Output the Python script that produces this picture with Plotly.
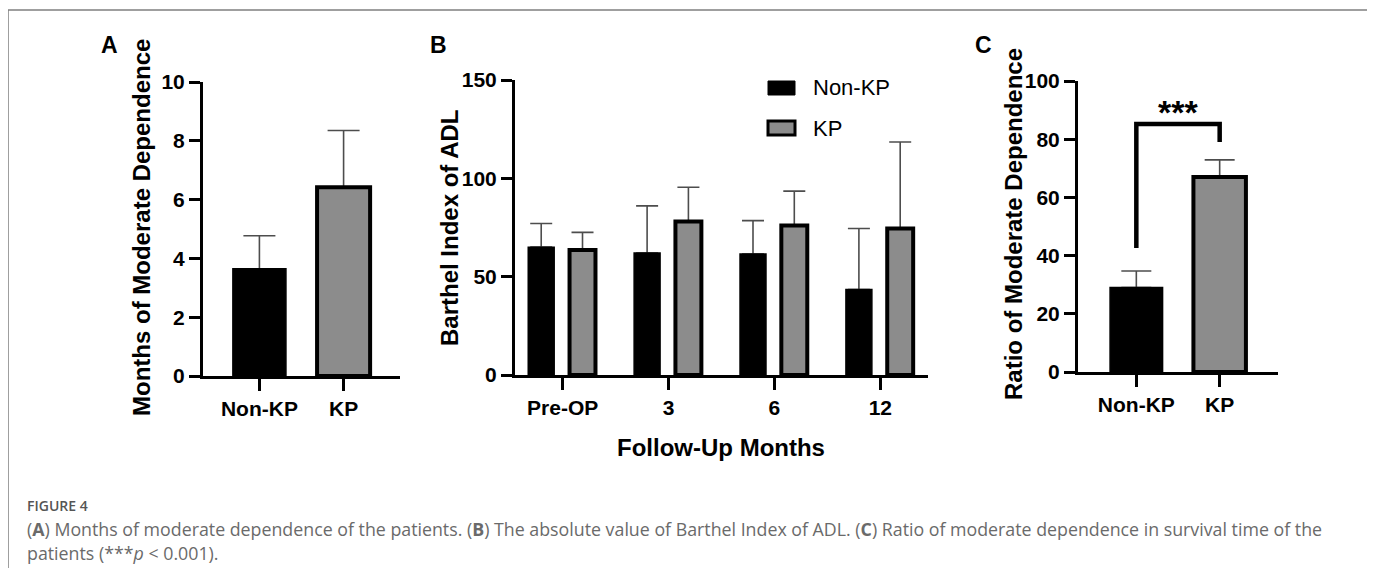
import plotly.graph_objects as go

# ---------------- data ----------------
a_categories = ["Non-KP", "KP"]
a_values = [3.65, 6.42]
a_errors = [1.12, 1.93]

b_categories = ["Pre-OP", "3", "6", "12"]
b_nonkp_values = [65.0, 62.0, 61.5, 43.5]
b_nonkp_errors = [12.0, 24.0, 17.0, 31.0]
b_kp_values = [63.5, 78.0, 76.0, 74.5]
b_kp_errors = [9.0, 17.5, 17.5, 44.0]

c_categories = ["Non-KP", "KP"]
c_values = [29.0, 67.0]
c_errors = [5.7, 5.9]
c_bracket_y = [42.6, 85.2, 85.2, 79.0]
c_star_label = "***"

series_names = ["Non-KP", "KP"]

# ---------------- styling ----------------
# the page body has an 8px margin, so the figure is sized to fill the rest
OFF = 8
W, H = 1375 - OFF, 568 - OFF
BLACK = "#000000"
GREY = "#8c8c8c"
ERR = "#4d4d4d"
FONT = "Arial, Liberation Sans, sans-serif"
CAP_FONT = "Open Sans, Noto Sans, sans-serif"


def px(x):
    return (x - OFF) / W


def py(y):
    return 1 - (y - OFF) / H


fig = go.Figure()


def err(arr, width):
    return dict(type="data", symmetric=False, array=arr,
                arrayminus=[0] * len(arr), color=ERR, thickness=1.6,
                width=width)


# ---- error bars (drawn underneath, on base axes) ----
fig.add_trace(go.Bar(x=a_categories, y=a_values, width=0.63,
                     marker=dict(color="rgba(0,0,0,0)", line=dict(width=0)),
                     error_y=err(a_errors, 16), xaxis="x", yaxis="y",
                     showlegend=False, hoverinfo="skip"))
fig.add_trace(go.Bar(x=b_categories, y=b_nonkp_values, width=0.245, offset=-0.325,
                     marker=dict(color="rgba(0,0,0,0)", line=dict(width=0)),
                     error_y=err(b_nonkp_errors, 11), xaxis="x2", yaxis="y2",
                     showlegend=False, hoverinfo="skip"))
fig.add_trace(go.Bar(x=b_categories, y=b_kp_values, width=0.245, offset=0.065,
                     marker=dict(color="rgba(0,0,0,0)", line=dict(width=0)),
                     error_y=err(b_kp_errors, 11), xaxis="x2", yaxis="y2",
                     showlegend=False, hoverinfo="skip"))
fig.add_trace(go.Bar(x=c_categories, y=c_values, width=0.63,
                     marker=dict(color="rgba(0,0,0,0)", line=dict(width=0)),
                     error_y=err(c_errors, 15), xaxis="x3", yaxis="y3",
                     showlegend=False, hoverinfo="skip"))

# ---- visible bars (overlay axes, drawn on top) ----
fig.add_trace(go.Bar(x=a_categories, y=a_values, width=0.63,
                     marker=dict(color=[BLACK, GREY], line=dict(color=BLACK, width=[1.5, 4])),
                     xaxis="x4", yaxis="y4", showlegend=False))
fig.add_trace(go.Bar(x=b_categories, y=b_nonkp_values, width=0.245, offset=-0.325,
                     name=series_names[0],
                     marker=dict(color=BLACK, line=dict(color=BLACK, width=1.5)),
                     xaxis="x5", yaxis="y5", showlegend=False))
fig.add_trace(go.Bar(x=b_categories, y=b_kp_values, width=0.245, offset=0.065,
                     name=series_names[1],
                     marker=dict(color=GREY, line=dict(color=BLACK, width=4)),
                     xaxis="x5", yaxis="y5", showlegend=False))
fig.add_trace(go.Bar(x=c_categories, y=c_values, width=0.63,
                     marker=dict(color=[BLACK, GREY], line=dict(color=BLACK, width=[1.5, 4])),
                     xaxis="x6", yaxis="y6", showlegend=False))

# significance bracket
fig.add_trace(go.Scatter(x=[c_categories[0], c_categories[0], c_categories[1], c_categories[1]],
                         y=c_bracket_y, mode="lines",
                         line=dict(color=BLACK, width=4.5),
                         xaxis="x6", yaxis="y6", showlegend=False, hoverinfo="skip"))

tickfont = dict(family=FONT, size=21, color=BLACK, weight="bold")


def xax(domain, rng, anchor):
    return dict(domain=domain, range=rng, type="category", anchor=anchor,
                showline=True, automargin=False,
                linecolor=BLACK, linewidth=3, ticks="outside", ticklen=12,
                tickwidth=3, tickcolor=BLACK, tickfont=tickfont,
                showgrid=False, zeroline=False, fixedrange=True)


def yax(domain, rng, dtick, anchor):
    return dict(domain=domain, range=rng, anchor=anchor, showline=True,
                automargin=False, linecolor=BLACK,
                linewidth=3, ticks="outside", ticklen=11, tickwidth=3,
                tickcolor=BLACK, tickfont=tickfont, dtick=dtick,
                showgrid=False, zeroline=False, fixedrange=True)


def hidden(over, rng, anchor, cat=False):
    d = dict(overlaying=over, range=rng, anchor=anchor, visible=False,
             automargin=False, fixedrange=True)
    if cat:
        d["type"] = "category"
    return d


dom_a_x = [px(203), px(400)]
dom_a_y = [py(376), py(82)]
dom_b_x = [px(515), px(928)]
dom_b_y = [py(375), py(80)]
dom_c_x = [px(1078), px(1278)]
dom_c_y = [py(372), py(81)]

rng_a_x = [-0.67, 1.67]
rng_b_x = [-0.45, 3.45]
rng_c_x = [-0.7, 1.7]

layout = dict(
    template="none",
    width=W, height=H, margin=dict(l=0, r=0, t=0, b=0, autoexpand=False),
    paper_bgcolor="white", plot_bgcolor="rgba(0,0,0,0)",
    barmode="overlay", showlegend=False,
    xaxis=xax(dom_a_x, rng_a_x, "y"), yaxis=yax(dom_a_y, [0, 10], 2, "x"),
    xaxis2=xax(dom_b_x, rng_b_x, "y2"), yaxis2=yax(dom_b_y, [0, 150], 50, "x2"),
    xaxis3=xax(dom_c_x, rng_c_x, "y3"), yaxis3=yax(dom_c_y, [0, 100], 20, "x3"),
    xaxis4=hidden("x", rng_a_x, "y4", True), yaxis4=hidden("y", [0, 10], "x4"),
    xaxis5=hidden("x2", rng_b_x, "y5", True), yaxis5=hidden("y2", [0, 150], "x5"),
    xaxis6=hidden("x3", rng_c_x, "y6", True), yaxis6=hidden("y3", [0, 100], "x6"),
)
fig.update_layout(**layout)

ann = []
title_font = dict(family=FONT, size=24, color=BLACK, weight="bold")
# panel letters
for letter, x in (("A", 109), ("B", 438), ("C", 984)):
    ann.append(dict(text=letter, x=px(x), y=py(45), xref="paper", yref="paper",
                    showarrow=False, xanchor="center", yanchor="middle",
                    font=dict(family=FONT, size=23, color=BLACK, weight="bold")))
# y titles
for text, x, y in (("Months of Moderate Dependence", 142, 228),
                   ("Barthel Index of ADL", 450, 228),
                   ("Ratio of Moderate Dependence", 1014, 224)):
    ann.append(dict(text=text, x=px(x), y=py(y), xref="paper", yref="paper",
                    showarrow=False, textangle=-90, xanchor="center", yanchor="middle",
                    font=title_font))
# x title for B
ann.append(dict(text="Follow-Up Months", x=px(721), y=py(447), xref="paper", yref="paper",
                showarrow=False, xanchor="center", yanchor="middle", font=title_font))
# significance stars
ann.append(dict(text=c_star_label, x=0.5, y=89.5, xref="x3", yref="y3", showarrow=False,
                xanchor="center", yanchor="middle",
                font=dict(family=FONT, size=34, color=BLACK, weight="bold")))
# manual legend
legend_items = [(series_names[0], BLACK, 1, 88), (series_names[1], GREY, 3, 128)]
shapes = []
for name, col, lw, yc in legend_items:
    shapes.append(dict(type="rect", xref="paper", yref="paper",
                       x0=px(768), x1=px(795), y0=py(yc + 7), y1=py(yc - 7),
                       fillcolor=col, line=dict(color=BLACK, width=lw)))
    ann.append(dict(text=name, x=px(811), y=py(yc), xref="paper", yref="paper",
                    showarrow=False, xanchor="left", yanchor="middle",
                    font=dict(family=FONT, size=22, color=BLACK)))
# figure frame
shapes.append(dict(type="rect", xref="paper", yref="paper", x0=px(8), x1=px(1369),
                   y0=py(620), y1=py(10), line=dict(color="#808080", width=1.5),
                   fillcolor="rgba(0,0,0,0)", layer="below"))
# caption
ann.append(dict(text="FIGURE 4", x=px(25), y=py(505), xref="paper", yref="paper",
                showarrow=False, xanchor="left", yanchor="middle",
                font=dict(family=CAP_FONT, size=14, color="#555555", weight=600)))
ann.append(dict(text="(<b>A</b>) Months of moderate dependence of the patients. (<b>B</b>) The absolute value of Barthel Index of ADL. (<b>C</b>) Ratio of moderate dependence in survival time of the",
                x=px(25), y=py(529), xref="paper", yref="paper",
                showarrow=False, xanchor="left", yanchor="middle",
                font=dict(family=CAP_FONT, size=17.8, color="#6a6a6a")))
ann.append(dict(text="patients (***<i>p</i> < 0.001).",
                x=px(25), y=py(553), xref="paper", yref="paper",
                showarrow=False, xanchor="left", yanchor="middle",
                font=dict(family=CAP_FONT, size=17.8, color="#6a6a6a")))

fig.update_layout(annotations=ann, shapes=shapes)
fig.write_html("out.html")
